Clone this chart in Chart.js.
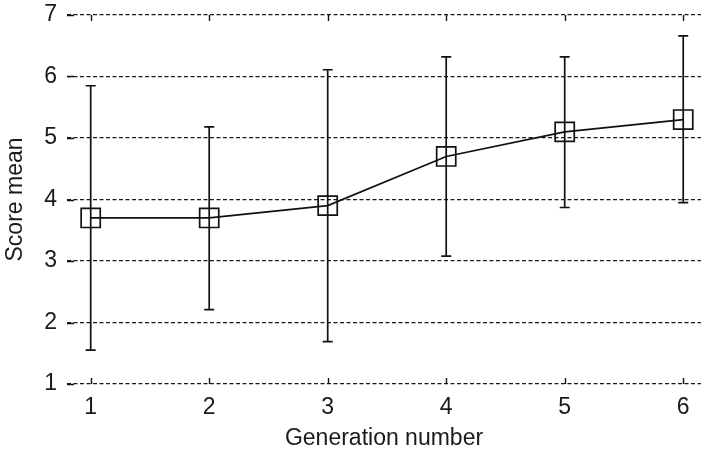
<!DOCTYPE html>
<html>
<head>
<meta charset="utf-8">
<script src="https://cdn.jsdelivr.net/npm/chart.js@4.4.1/dist/chart.umd.min.js"></script>
<style>
html,body{margin:0;padding:0;background:#fff;}
#wrap{width:701px;height:452px;position:relative;}
</style>
</head>
<body>
<div id="wrap"><canvas id="c" width="701" height="452"></canvas></div>
<script>
const generations = [1, 2, 3, 4, 5, 6];
const scoreMean = [3.7, 3.7, 3.9, 4.7, 5.1, 5.3];
const upperBound = [5.85, 5.18, 6.11, 6.32, 6.32, 6.66];
const lowerBound = [1.55, 2.21, 1.69, 3.08, 3.87, 3.95];
const yTicks = [1, 2, 3, 4, 5, 6, 7];
const xTickLabels = ['1', '2', '3', '4', '5', '6'];

const FONT = 'Liberation Sans, Arial, Helvetica, sans-serif';

const errorBars = {
  id: 'errorBars',
  afterDatasetsDraw(chart) {
    const ctx = chart.ctx, xs = chart.scales.x, ys = chart.scales.y;
    ctx.save();
    ctx.strokeStyle = '#111';
    ctx.lineWidth = 1.7;
    for (let i = 0; i < generations.length; i++) {
      const x = xs.getPixelForValue(generations[i]);
      const yt = ys.getPixelForValue(upperBound[i]);
      const yb = ys.getPixelForValue(lowerBound[i]);
      ctx.beginPath();
      ctx.moveTo(x, yt); ctx.lineTo(x, yb);
      ctx.moveTo(x - 5, yt); ctx.lineTo(x + 5, yt);
      ctx.moveTo(x - 5, yb); ctx.lineTo(x + 5, yb);
      ctx.stroke();
    }
    ctx.restore();
  }
};

const innerTicks = {
  id: 'innerTicks',
  afterDraw(chart) {
    const ctx = chart.ctx, xs = chart.scales.x, ys = chart.scales.y, a = chart.chartArea;
    ctx.save();
    ctx.strokeStyle = '#111';
    ctx.lineWidth = 1.4;
    ctx.beginPath();
    xs.ticks.forEach(t => {
      const x = Math.round(xs.getPixelForValue(t.value)) + 0.5;
      ctx.moveTo(x, a.bottom); ctx.lineTo(x, a.bottom - 6);
      ctx.moveTo(x, a.top); ctx.lineTo(x, a.top + 6);
    });
    ys.ticks.forEach(t => {
      const y = Math.round(ys.getPixelForValue(t.value)) + 0.5;
      ctx.moveTo(a.left, y); ctx.lineTo(a.left + 7, y);
    });
    ctx.stroke();
    ctx.restore();
  }
};

new Chart(document.getElementById('c'), {
  type: 'line',
  data: {
    datasets: [{
      data: generations.map((g, i) => ({ x: g, y: scoreMean[i] })),
      borderColor: '#111',
      borderWidth: 1.7,
      tension: 0,
      pointStyle: 'rect',
      pointRadius: 13.5,
      pointHoverRadius: 13.5,
      pointBorderWidth: 1.7,
      pointBorderColor: '#111',
      pointBackgroundColor: 'rgba(0,0,0,0)'
    }]
  },
  options: {
    responsive: false,
    animation: false,
    events: [],
    layout: { autoPadding: false, padding: { left: 0, right: 0, top: 15, bottom: 0 } },
    plugins: { legend: { display: false }, tooltip: { enabled: false } },
    scales: {
      x: {
        type: 'linear',
        min: 0.8,
        max: 6.15,
        afterBuildTicks(s) { s.ticks = generations.map(v => ({ value: v })); },
        afterFit(s) { s.height = 68; s.paddingLeft = 0; s.paddingRight = 0; },
        grid: { display: false, drawTicks: false },
        border: { display: false },
        ticks: {
          padding: 10,
          color: '#1a1a1a',
          font: { family: FONT, size: 23 },
          callback: (v) => { const i = generations.indexOf(v); return i >= 0 ? xTickLabels[i] : ''; },
          maxRotation: 0, autoSkip: false
        },
        title: {
          display: true,
          text: 'Generation number',
          color: '#1a1a1a',
          font: { family: FONT, size: 23 },
          padding: { top: 0, bottom: 0 }
        }
      },
      y: {
        min: 1,
        max: 7,
        afterBuildTicks(s) { s.ticks = yTicks.map(v => ({ value: v })); },
        afterFit(s) { s.width = 67; s.paddingTop = 0; s.paddingBottom = 0; },
        grid: { display: true, drawTicks: false, color: '#1a1a1a', lineWidth: 1.3 },
        border: { display: false, dash: [4, 2.5] },
        ticks: {
          padding: 10,
          color: '#1a1a1a',
          font: { family: FONT, size: 23 },
          callback: (v) => String(v)
        },
        title: {
          display: true,
          text: 'Score mean',
          color: '#1a1a1a',
          font: { family: FONT, size: 23 },
          padding: { top: 2, bottom: 0 }
        }
      }
    }
  },
  plugins: [errorBars, innerTicks]
});
</script>
</body>
</html>
